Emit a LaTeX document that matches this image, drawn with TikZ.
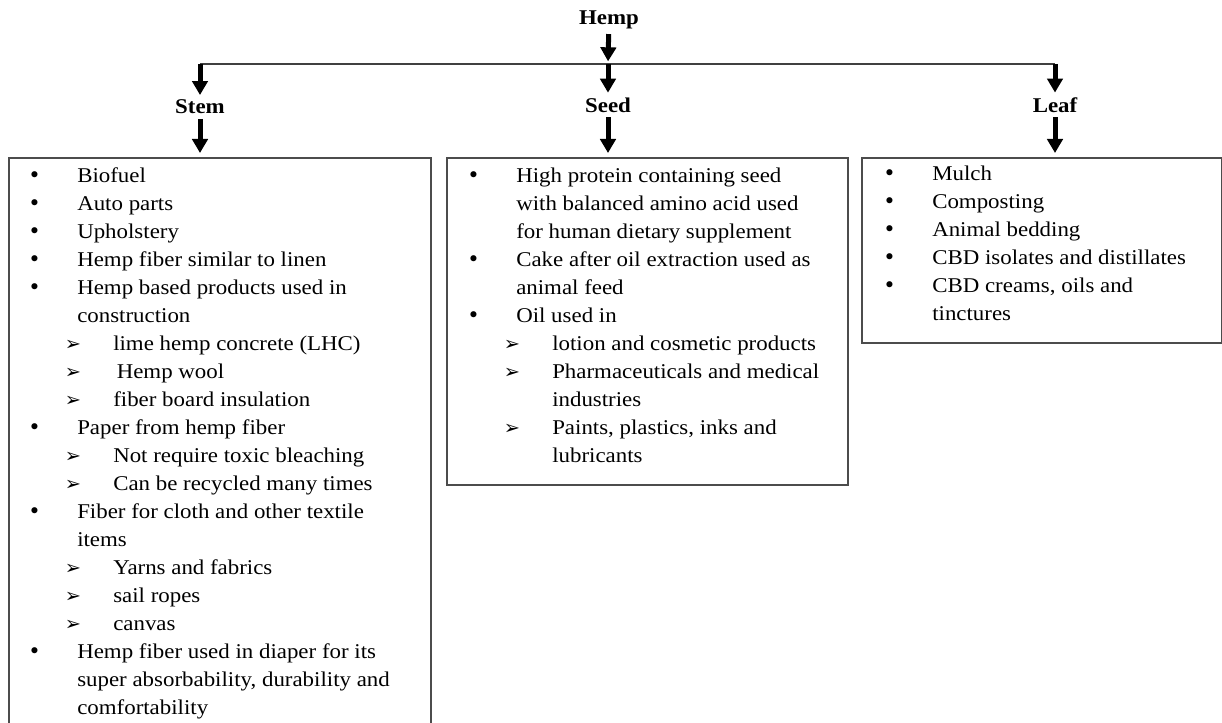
\documentclass[tikz,border=0pt]{standalone}
\usepackage{fontspec}
\setmainfont[FakeStretch=1.09]{Liberation Serif}
\newfontfamily\symfont{DejaVu Sans}
\usetikzlibrary{arrows.meta}
% list lines: bullet, bullet continued, sub arrow, sub continued
\newcommand\bul[1]{\makebox[36.75pt][l]{\symfont •}#1}
\newcommand\bcont[1]{\hspace*{36.75pt}#1}
\newcommand\sarr[1]{\hspace*{27.5pt}\makebox[36.25pt][l]{\symfont\fontsize{14.5pt}{14.5pt}\selectfont ➢}#1}
\newcommand\scont[1]{\hspace*{63.75pt}#1}
\tikzset{
  title/.style={font=\bfseries\fontsize{15.75pt}{18pt}\selectfont, inner sep=3.5pt},
  box/.style={draw=black!70, line width=1.5pt, anchor=north west, inner sep=0pt},
  list/.style={align=left, anchor=north west, inner sep=0pt,
    font=\fontsize{15.75pt}{21pt}\selectfont},
  blk/.style={line width=3.75pt, -{Triangle[length=10.5pt,width=11.5pt]}},
}
\begin{document}
\begin{tikzpicture}[x=0.75pt,y=-0.75pt]
      \useasboundingbox (0,0) rectangle (1222,723);
      \clip (0,0) rectangle (1222,723);
      \draw
        (609,20) node[title] (hemp){Hemp}
        (200,107) node[title] (stem){Stem}
        (608,105) node[title] (seed){Seed}
        (1055,105) node[title] (leaf){Leaf}
        (8,157) node[box, minimum width=316.5pt, minimum height=440pt] (stembox){}
        (446,157) node[box, minimum width=300.75pt, minimum height=245.25pt] (seedbox){}
        (861,157) node[box, minimum width=270pt, minimum height=138.75pt] (leafbox){};
      \coordinate (jn) at (608,64);
      \coordinate (ls) at (200,64);
      \coordinate (rs) at (1055,64);
      \node[list] (stemtxt) at (28,167.5) {%
        \bul{Biofuel}\\
        \bul{Auto parts}\\
        \bul{Upholstery}\\
        \bul{Hemp fiber similar to linen}\\
        \bul{Hemp based products used in}\\
        \bcont{construction}\\
        \sarr{lime hemp concrete (LHC)}\\
        \sarr{\,Hemp wool}\\
        \sarr{fiber board insulation}\\
        \bul{Paper from hemp fiber}\\
        \sarr{Not require toxic bleaching}\\
        \sarr{Can be recycled many times}\\
        \bul{Fiber for cloth and other textile}\\
        \bcont{items}\\
        \sarr{Yarns and fabrics}\\
        \sarr{sail ropes}\\
        \sarr{canvas}\\
        \bul{Hemp fiber used in diaper for its}\\
        \bcont{super absorbability, durability and}\\
        \bcont{comfortability}};
      \node[list] (seedtxt) at (467,167.5) {%
        \bul{High protein containing seed}\\
        \bcont{with balanced amino acid used}\\
        \bcont{for human dietary supplement}\\
        \bul{Cake after oil extraction used as}\\
        \bcont{animal feed}\\
        \bul{Oil used in}\\
        \sarr{lotion and cosmetic products}\\
        \sarr{Pharmaceuticals and medical}\\
        \scont{industries}\\
        \sarr{Paints, plastics, inks and}\\
        \scont{lubricants}};
      \node[list] (leaftxt) at (883,165.5) {%
        \bul{Mulch}\\
        \bul{Composting}\\
        \bul{Animal bedding}\\
        \bul{CBD isolates and distillates}\\
        \bul{CBD creams, oils and}\\
        \bcont{tinctures}};
      \draw[black!75, line width=1.2pt] (ls) -- (rs);
      \begin{scope}[blk]
        \draw[shorten >=2pt] (hemp) to (jn);
        \draw (ls) to (stem);
        \draw (jn) to (seed);
        \draw (rs) to (leaf);
        \draw[shorten >=3pt] (stem) to (stem |- stembox.north);
        \draw[shorten >=3pt] (seed) to (seed |- seedbox.north);
        \draw[shorten >=3pt] (leaf) to (leaf |- leafbox.north);
      \end{scope}
    \end{tikzpicture}
\end{document}
